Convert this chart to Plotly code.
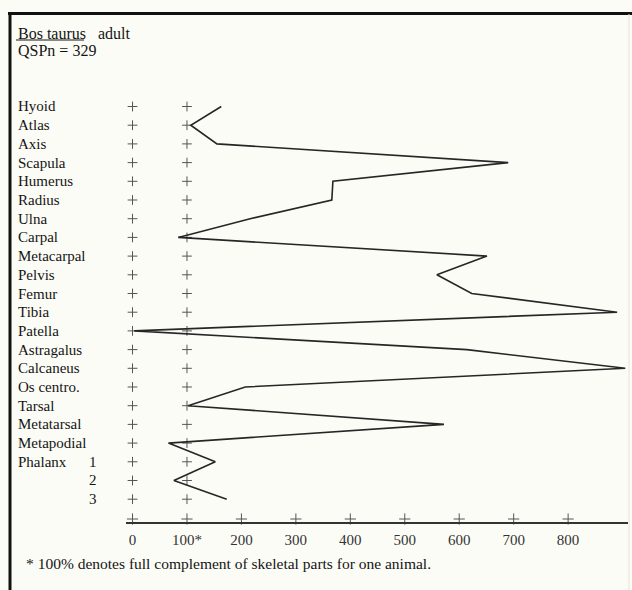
import plotly.graph_objects as go

W, H = 632, 590

# ---- data ----
bones = ["Hyoid", "Atlas", "Axis", "Scapula", "Humerus", "Radius", "Ulna", "Carpal",
         "Metacarpal", "Pelvis", "Femur", "Tibia", "Patella", "Astragalus", "Calcaneus",
         "Os centro.", "Tarsal", "Metatarsal", "Metapodial", "Phalanx", "", ""]
phalanx_nums = ["1", "2", "3"]
percent = [163, 107, 155, 690, 368, 366, 216, 84, 651, 559, 623, 890,
           3, 614, 905, 207, 102, 572, 66, 152, 76, 173]
ref_columns = [0, 100]
tick_vals = [0, 100, 200, 300, 400, 500, 600, 700, 800]
tick_text = ["0", "100*", "200", "300", "400", "500", "600", "700", "800"]
title_species = "Bos taurus"
title_rest = "adult"
qsp_text = "QSPn = 329"
footnote = "* 100% denotes full complement of skeletal parts for one animal."

# ---- layout helpers (pixel -> paper) ----
def px(x):
    return x / W

def py(y):
    return 1 - y / H

FONT = "Liberation Serif"
INK = "#141414"
rows = list(range(len(bones)))
axis_row = 22.06

fig = go.Figure()

# reference "+" columns at 0 and 100
for c in ref_columns:
    fig.add_trace(go.Scatter(
        x=[c] * len(rows), y=rows, mode="markers",
        marker=dict(symbol="cross-thin", size=7, line=dict(width=1, color="#555")),
        hoverinfo="skip", showlegend=False, cliponaxis=False))

# axis tick crosses
fig.add_trace(go.Scatter(
    x=tick_vals, y=[axis_row] * len(tick_vals), mode="markers",
    marker=dict(symbol="cross-thin", size=8, line=dict(width=1, color="#555")),
    hoverinfo="skip", showlegend=False, cliponaxis=False))

# profile line
fig.add_trace(go.Scatter(
    x=percent, y=rows, mode="lines",
    line=dict(color="#262626", width=1.6),
    showlegend=False, cliponaxis=False))

annotations = []
for i, b in enumerate(bones):
    if b:
        annotations.append(dict(x=px(16), y=i, xref="paper", yref="y", text=b,
                                xanchor="left", yanchor="middle", showarrow=False,
                                font=dict(family=FONT, size=15, color=INK)))
for k, n in enumerate(phalanx_nums):
    annotations.append(dict(x=px(87), y=19 + k, xref="paper", yref="y", text=n,
                            xanchor="left", yanchor="middle", showarrow=False,
                            font=dict(family=FONT, size=15, color=INK)))

annotations.append(dict(x=px(16), y=py(33), xref="paper", yref="paper",
                        text=title_species + "&nbsp;&nbsp;&nbsp;" + title_rest,
                        xanchor="left", yanchor="middle", showarrow=False,
                        font=dict(family=FONT, size=16, color=INK)))
annotations.append(dict(x=px(16), y=py(51), xref="paper", yref="paper",
                        text=qsp_text, xanchor="left", yanchor="middle", showarrow=False,
                        font=dict(family=FONT, size=16, color=INK)))
annotations.append(dict(x=px(24), y=py(563), xref="paper", yref="paper",
                        text=footnote, xanchor="left", yanchor="middle", showarrow=False,
                        font=dict(family=FONT, size=15.5, color=INK)))

shapes = [
    # frame
    dict(type="line", xref="paper", yref="paper", x0=px(8), x1=px(632), y0=py(13.5), y1=py(13.5),
         line=dict(color="#111", width=3)),
    dict(type="line", xref="paper", yref="paper", x0=px(10), x1=px(10), y0=py(12), y1=py(590),
         line=dict(color="#111", width=3)),
    dict(type="line", xref="paper", yref="paper", x0=px(629), x1=px(629), y0=py(14), y1=py(590),
         line=dict(color="#e4e4de", width=1)),
    # underline of species name
    dict(type="line", xref="paper", yref="paper", x0=px(16), x1=px(84), y0=py(40), y1=py(40),
         line=dict(color=INK, width=1)),
]

fig.update_layout(
    width=W, height=H, autosize=False,
    margin=dict(l=0, r=0, t=0, b=0),
    paper_bgcolor="#fcfcf7", plot_bgcolor="rgba(0,0,0,0)",
    annotations=annotations, shapes=shapes,
    xaxis=dict(domain=[126 / W, 628 / W], range=[-12, 910],
               showgrid=False, zeroline=False,
               showline=True, linecolor="#333", linewidth=1.5,
               tickvals=tick_vals, ticktext=tick_text, ticks="",
               ticklabelstandoff=3,
               tickfont=dict(family=FONT, size=15, color="#333"), fixedrange=True),
    yaxis=dict(domain=[1 - 522 / H, 1 - 14 / H], range=[22.22, -4.947],
               showgrid=False, zeroline=False, showline=False,
               showticklabels=False, ticks="", fixedrange=True),
)

fig.write_html("out.html", config={"displayModeBar": False},
               post_script="document.body.style.margin='0';document.body.style.background='#fcfcf7';")
